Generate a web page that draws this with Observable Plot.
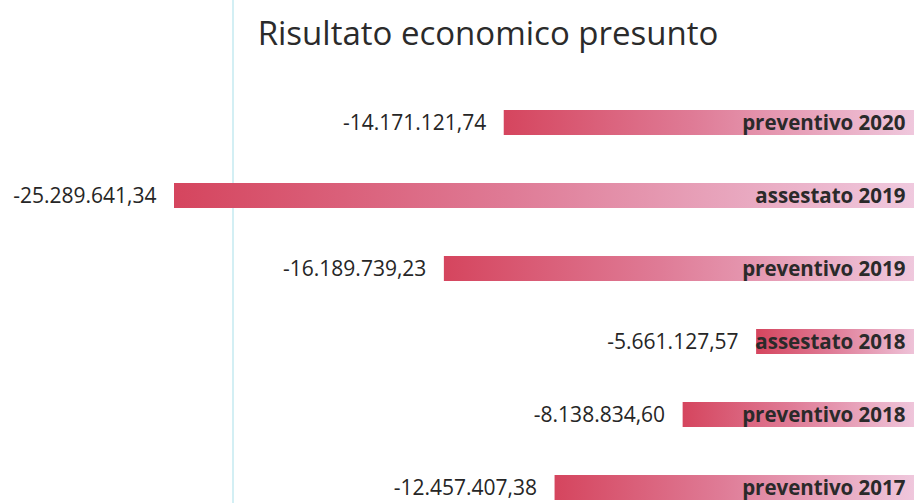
<!DOCTYPE html>
<html>
<head>
<meta charset="utf-8">
<script src="https://cdn.jsdelivr.net/npm/d3@7"></script>
<script src="https://cdn.jsdelivr.net/npm/@observablehq/plot@0.6"></script>
<style>
  html, body { margin: 0; padding: 0; background: #fff; width: 914px; height: 503px; overflow: hidden; }
  #wrap { position: relative; width: 914px; height: 503px; overflow: hidden; }
  #title { position: absolute; left: 0; top: 10px; width: 976px; text-align: center;
           font-family: "Open Sans", sans-serif; font-size: 33px; color: #2b2b2b; }
  #chart { position: absolute; left: 0; top: 70px; }
  #scanline { position: absolute; left: 232px; top: 0; width: 2px; height: 503px; background: #d3eff4; }
</style>
</head>
<body>
<div id="wrap">
  <div id="scanline"></div>
  <div id="title">Risultato economico presunto</div>
  <div id="chart"></div>
</div>
<script>
const categories = ["preventivo 2020", "assestato 2019", "preventivo 2019", "assestato 2018", "preventivo 2018", "preventivo 2017"];
const values = [-14171121.74, -25289641.34, -16189739.23, -5661127.57, -8138834.60, -12457407.38];

const data = categories.map((c, i) => ({category: c, value: values[i]}));
const itFormat = d3.formatLocale({decimal: ",", thousands: ".", grouping: [3], currency: ["", "€"], minus: "-"}).format(",.2f");

const defs = () => {
  const d = d3.create("svg:defs");
  const g = d.append("linearGradient").attr("id", "barGrad").attr("x1", 0).attr("x2", 1).attr("y1", 0).attr("y2", 0);
  g.append("stop").attr("offset", "0%").attr("stop-color", "#d5455e");
  g.append("stop").attr("offset", "45%").attr("stop-color", "#df7b96");
  g.append("stop").attr("offset", "100%").attr("stop-color", "#f0cbe0");
  return d.node();
};

const chart = Plot.plot({
  width: 914,
  height: 433,
  margin: 0,
  x: {domain: [-25289641.34, 0], range: [174, 924], axis: null},
  y: {domain: categories, range: [15.4, 454.6], paddingInner: 0.66, paddingOuter: 0.33, axis: null},
  style: {fontFamily: "'Open Sans', sans-serif", background: "transparent"},
  marks: [
    defs,
    Plot.barX(data, {x: "value", y: "category", fill: "url(#barGrad)"}),
    Plot.text(data, {x: "value", y: "category", text: d => itFormat(d.value), textAnchor: "end", dx: -18, fontSize: 21, fill: "#262626"}),
    Plot.text(data, {x: 0, y: "category", text: "category", textAnchor: "end", dx: -19, fontSize: 20.5, fontWeight: "bold", fill: "#2a2a2a"})
  ]
});
document.getElementById("chart").appendChild(chart);
</script>
</body>
</html>
